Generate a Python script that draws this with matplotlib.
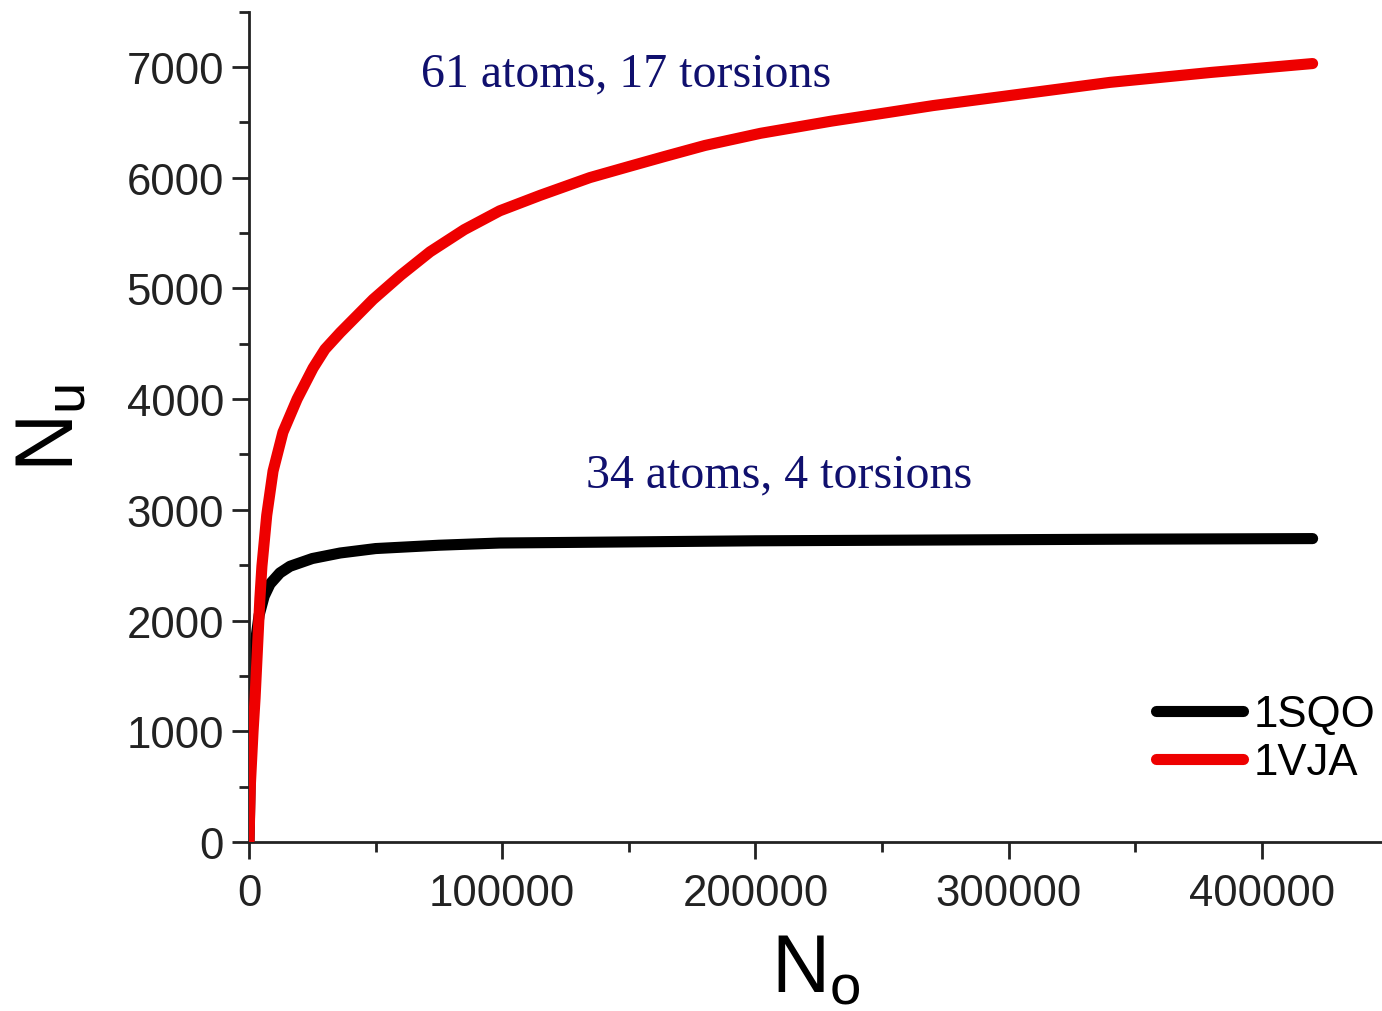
import matplotlib
matplotlib.use("Agg")
import matplotlib.pyplot as plt
from matplotlib.ticker import MultipleLocator

plt.rcParams['font.family'] = ['Liberation Sans', 'DejaVu Sans']
plt.rcParams['mathtext.fontset'] = 'custom'
plt.rcParams['mathtext.rm'] = 'Liberation Sans'
plt.rcParams['mathtext.it'] = 'Liberation Sans'

# 1SQO (34 atoms, 4 torsions)
x_1sqo = [0, 1000, 2500, 4000, 6000, 8300, 12200, 16200, 25000, 36000, 50000, 75000,
          99000, 150000, 200000, 250000, 300000, 350000, 420000]
y_1sqo = [0, 1200, 1800, 2050, 2220, 2330, 2430, 2490, 2560, 2610, 2650, 2680,
          2700, 2710, 2720, 2725, 2730, 2735, 2740]

# 1VJA (61 atoms, 17 torsions)
x_1vja = [0, 500, 1600, 2400, 4300, 5100, 7000, 9500, 13400, 19000, 25300, 30000, 36000,
          49000, 60000, 71500, 85000, 99000, 115000, 134600, 150000, 164000, 180000,
          202000, 230000, 253000, 270000, 300000, 340000, 380000, 420000]
y_1vja = [0, 500, 1000, 1300, 2200, 2490, 2950, 3350, 3700, 4000, 4280, 4450, 4600,
          4900, 5120, 5330, 5530, 5700, 5840, 6000, 6100, 6190, 6290,
          6400, 6510, 6590, 6650, 6740, 6860, 6950, 7030]

fig = plt.figure(figsize=(13.82, 10.12), dpi=100)
ax = fig.add_axes([249/1382, 169/1012, 1 - 249/1382, (843 - 12.5)/1012])

ax.plot(x_1sqo, y_1sqo, color='black', lw=8, label='1SQO', solid_capstyle='round',
        solid_joinstyle='round', zorder=2)
ax.plot(x_1vja, y_1vja, color='#ee0000', lw=8, label='1VJA', solid_capstyle='round',
        solid_joinstyle='round', zorder=3)

ax.set_xlim(0, 447400)
ax.set_ylim(0, 7500)
ax.xaxis.set_major_locator(MultipleLocator(100000))
ax.xaxis.set_minor_locator(MultipleLocator(50000))
ax.yaxis.set_major_locator(MultipleLocator(1000))
ax.yaxis.set_minor_locator(MultipleLocator(500))

for s in ['top', 'right']:
    ax.spines[s].set_visible(False)
for s in ['left', 'bottom']:
    ax.spines[s].set_linewidth(2)
    ax.spines[s].set_color('#222222')

ax.tick_params(which='major', direction='out', length=12, width=2, labelsize=31.5, pad=6, colors='#222222')
ax.tick_params(which='minor', direction='out', length=7, width=2, colors='#222222')
ax.tick_params(axis='x', pad=10)

ax.set_xlabel(r'$\mathregular{N_o}$', fontsize=58, labelpad=14)
ax.set_ylabel(r'$\mathregular{N_u}$', fontsize=58, labelpad=26)

ax.text(0.333, 0.925, '61 atoms, 17 torsions', transform=ax.transAxes,
        family=['Liberation Serif'], fontsize=34.5, color='#10106e', ha='center', va='center')
ax.text(0.468, 0.442, '34 atoms, 4 torsions', transform=ax.transAxes,
        family=['Liberation Serif'], fontsize=34.5, color='#10106e', ha='center', va='center')

leg = ax.legend(loc='lower right', bbox_to_anchor=(1.01, 0.05), frameon=False, fontsize=31.5,
                handlelength=2.0, handletextpad=0.25, labelspacing=0.15, borderaxespad=0)

fig.savefig('out.png', dpi=100)
